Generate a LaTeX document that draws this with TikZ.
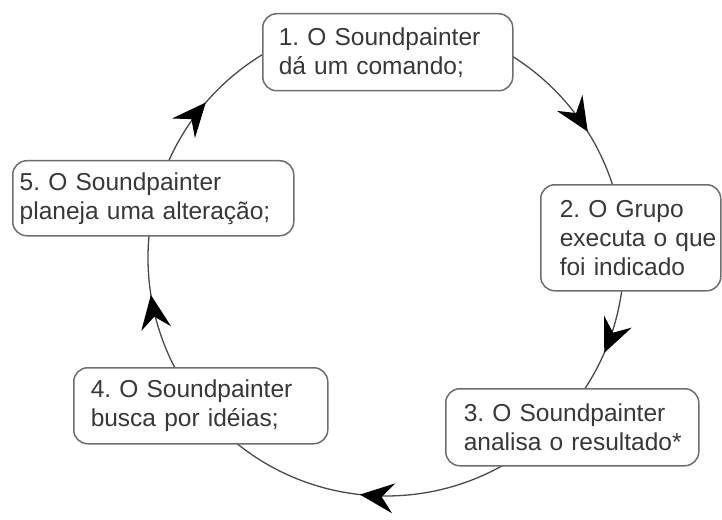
\documentclass[tikz,border=0pt]{standalone}
\usepackage{fontspec}
\setmainfont{Liberation Sans}
\usetikzlibrary{arrows.meta,decorations.markings,backgrounds,calc}
\definecolor{linegray}{HTML}{4A4A4A}
\definecolor{boxgray}{HTML}{6E6E6E}
\definecolor{textgray}{HTML}{383838}
\frenchspacing
\hfuzz=100pt
\begin{document}
\begin{tikzpicture}[x=1pt,y=1pt,
  stepbox/.style={draw=boxgray, line width=1.5pt, rounded corners=14pt,
    fill=white, align=left, anchor=north west, inner ysep=0pt,
    text=textgray, font=\fontsize{24.5}{29}\selectfont},
  flow/.style={draw=linegray, line width=1.3pt, postaction=decorate,
    decoration={markings, mark=at position #1 with
      {\arrow[black]{Stealth[length=34pt,width=30pt,inset=12pt]}}}}]

% cycle of the five steps
\node[stepbox, inner xsep=16pt, text width=218pt, minimum height=77pt]
  (s1) at (262,-13) {\mbox{1. O Soundpainter}\\\mbox{dá um comando;}};
\node[stepbox, inner xsep=19pt, text width=142pt, minimum height=106pt]
  (s2) at (540,-184) {\mbox{2. O Grupo}\\\mbox{executa o que}\\\mbox{foi indicado}};
\node[stepbox, inner xsep=18pt, text width=217pt, minimum height=77pt]
  (s3) at (445,-388) {\mbox{3. O Soundpainter}\\\mbox{analisa o resultado*}};
\node[stepbox, inner xsep=17pt, text width=220pt, minimum height=76pt]
  (s4) at (73,-367) {\mbox{4. O Soundpainter}\\\mbox{busca por idéias;}};
\node[stepbox, inner xsep=7pt, text width=267pt, minimum height=75pt]
  (s5) at (12,-160) {\mbox{5. O Soundpainter}\\\mbox{planeja uma alteração;}};

\coordinate (c) at (386,-258);

\begin{pgfonlayer}{background}
  \fill[white] (0,0) rectangle (722,-510);
  % circular path running clockwise through the boxes
  \draw[flow=0.644] ($(c)+(90:238)$)   arc[start angle=90,   end angle=0,    radius=238];
  \draw[flow=0.522] ($(c)+(0:238)$)    arc[start angle=0,    end angle=-45,  radius=238];
  \draw[flow=0.570] ($(c)+(-45:238)$)  arc[start angle=-45,  end angle=-135, radius=238];
  \draw[flow=0.555] ($(c)+(-135:238)$) arc[start angle=-135, end angle=-200, radius=238];
  \draw[flow=0.297] ($(c)+(-200:238)$) arc[start angle=-200, end angle=-270, radius=238];
\end{pgfonlayer}
\useasboundingbox (0,0) rectangle (722,-510);
\end{tikzpicture}
\end{document}
